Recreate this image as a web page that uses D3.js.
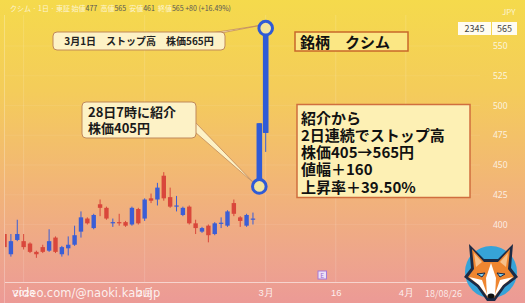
<!DOCTYPE html>
<html>
<head>
<meta charset="utf-8">
<script src="https://cdn.jsdelivr.net/npm/d3@7"></script>
<style>
  html, body { margin: 0; padding: 0; background: #f2b878; }
  svg { display: block; font-family: "Noto Sans CJK JP", "Noto Sans", sans-serif; }
</style>
</head>
<body>
<svg id="chart" width="525" height="303"></svg>
<script>
// Daily candles, クシム (2345), late Dec 2022 → 1 Mar 2023
const openP  = [392,375,387,386,384,377,381,378,389,375,380,383,394,405,397,417,414,401,402,402,400,413,405,422,421,441,423,415,408,415,401,394,399,392,401,399,418,406,399,404.5,432,477];
const highP  = [395,392,404,392,385,378,383,396,390,382,390,399,411,406,409,421,415,405,409,403,415,414,422,426,435,444,431,424,415,416,404,398,400,402,406,412,421,407,409,410,485,565];
const lowP   = [378,373,386,379,376,372,376,377,376,373,374,382,389,400,396,407,404,398,399,398,399,400,403,418,416,420,414,411,407,400,392,393,385,391,397,398,407,398,398,400,430,461];
const closeP = [381,386,392,381,377,375,377,386,377,381,383,391,406,401,408,414,405,402,401,399,414,401,421,420,431,422,415,416,414,401,397,397,391,401,401.5,411,409,403,408,405,485,565];

// trading-day index of each date label on the time axis
const tickIdx  = [3, 22, 41, 52, 63];
const tickText = ["2023", "2月", "3月", "16", "4月"];
const priceTicks = [400, 425, 450, 475, 500, 525, 550];

const W = 525, H = 303;
const svg = d3.select("#chart");

// background gradient
const defs = svg.append("defs");
const grad = defs.append("linearGradient").attr("id", "bg").attr("x1", 0).attr("y1", 0).attr("x2", 0).attr("y2", 1);
[["0%", "#f5da4c"], ["30%", "#f4cc5a"], ["60%", "#f2b676"], ["85%", "#eea58c"], ["100%", "#ec9a96"]]
  .forEach(([o, c]) => grad.append("stop").attr("offset", o).attr("stop-color", c));
svg.append("rect").attr("width", W).attr("height", H).attr("fill", "url(#bg)");

// scales
const x = d3.scaleLinear().domain([41, 63]).range([265.7, 265.7 + 22 * 6.37]);
const y = d3.scaleLinear().domain([400, 550]).range([224.5, 46]);

// grid
const grid = svg.append("g").attr("stroke", "#fff");
grid.selectAll("line.v").data(tickIdx).join("line")
  .attr("x1", d => x(d)).attr("x2", d => x(d)).attr("y1", 15).attr("y2", 282)
  .attr("stroke-opacity", 0.14);
grid.selectAll("line.h").data(priceTicks).join("line")
  .attr("x1", 5).attr("x2", 480).attr("y1", d => y(d)).attr("y2", d => y(d))
  .attr("stroke-opacity", 0.07);

// left edge of the pane
svg.append("line").attr("x1", 4.5).attr("x2", 4.5).attr("y1", 15).attr("y2", 303)
  .attr("stroke", "#fff").attr("stroke-opacity", 0.25);

// candles
const UP = "#3a5ed6", DOWN = "#d9473b";
const cw = 4.4;
const candles = svg.append("g").attr("clip-path", "url(#pane)");
defs.append("clipPath").attr("id", "pane").append("rect").attr("x", 5).attr("y", 15).attr("width", 475).attr("height", 267);
const idx = d3.range(openP.length);
candles.selectAll("line.wick").data(idx).join("line")
  .attr("x1", i => x(i)).attr("x2", i => x(i))
  .attr("y1", i => y(highP[i])).attr("y2", i => y(lowP[i]))
  .attr("stroke", i => closeP[i] >= openP[i] ? UP : DOWN).attr("stroke-width", 1);
candles.selectAll("rect.body").data(idx).join("rect")
  .attr("x", i => x(i) - cw / 2).attr("width", cw)
  .attr("y", i => y(Math.max(openP[i], closeP[i])))
  .attr("height", i => Math.max(1.2, Math.abs(y(openP[i]) - y(closeP[i]))))
  .attr("fill", i => closeP[i] >= openP[i] ? UP : DOWN);

// thick highlight over the two limit-up sessions
const hl = svg.append("g").attr("fill", "#2f5bd6");
[40, 41].forEach(i => {
  hl.append("rect").attr("x", x(i) - 2.8).attr("width", 5.6)
    .attr("y", y(closeP[i])).attr("height", y(openP[i]) - y(closeP[i]));
});

// callout tails
const cream = "#fdf2c6", tan = "#c0895a";
svg.append("polygon").attr("points", `211,33 ${x(41) - 4},${y(565) - 3} 221,33`)
  .attr("fill", cream).attr("stroke", tan).attr("stroke-width", 0.8);
svg.append("polygon").attr("points", `195,122 ${x(40) - 4},${y(432) - 2} 195,132`)
  .attr("fill", cream).attr("stroke", tan).attr("stroke-width", 0.8);

// marker circles at the intro point and the limit-up close
svg.selectAll("circle.mk").data([[40, 432], [41, 565]]).join("circle")
  .attr("cx", d => x(d[0])).attr("cy", d => y(d[1])).attr("r", 6.8)
  .attr("fill", "#f4e49a").attr("stroke", "#2f5bd6").attr("stroke-width", 3);

// callout boxes
svg.append("rect").attr("x", 53).attr("y", 32).attr("width", 172).attr("height", 18).attr("rx", 4)
  .attr("fill", cream).attr("stroke", tan).attr("stroke-width", 1);
svg.append("text").attr("x", 139).attr("y", 45).attr("text-anchor", "middle")
  .attr("font-size", 10).attr("font-weight", 700).attr("fill", "#222")
  .text("3月1日　ストップ高　株価565円");

svg.append("rect").attr("x", 82).attr("y", 102).attr("width", 114).attr("height", 36).attr("rx", 4)
  .attr("fill", cream).attr("stroke", tan).attr("stroke-width", 1);
svg.append("text").attr("font-size", 13).attr("font-weight", 700).attr("fill", "#1a1a1a")
  .selectAll("tspan").data(["28日7時に紹介", "株価405円"]).join("tspan")
  .attr("x", 88).attr("y", (d, i) => 117 + i * 16).text(d => d);

// ticker box
svg.append("rect").attr("x", 295).attr("y", 32).attr("width", 113).attr("height", 19)
  .attr("fill", "#fbe784").attr("stroke", "#c8682a").attr("stroke-width", 1.5);
svg.append("text").attr("x", 300).attr("y", 47.5).attr("font-size", 15).attr("font-weight", 700)
  .attr("fill", "#111").text("銘柄　クシム");

// summary box
svg.append("rect").attr("x", 297).attr("y", 104.5).attr("width", 173).attr("height", 93)
  .attr("fill", "#fdf0b4").attr("stroke", "#d06e3e").attr("stroke-width", 1.5);
svg.append("text").attr("font-size", 15).attr("font-weight", 700).attr("fill", "#111")
  .selectAll("tspan")
  .data(["紹介から", "2日連続でストップ高", "株価405→565円", "値幅＋160", "上昇率＋39.50%"]).join("tspan")
  .attr("x", 301).attr("y", (d, i) => 123.5 + i * 17.3).text(d => d);

// price axis
const yAxis = d3.axisRight(y).tickValues(priceTicks).tickSize(0).tickPadding(5);
const ya = svg.append("g").attr("transform", "translate(488,0)").call(yAxis);
ya.select(".domain").remove();
ya.selectAll("text").attr("fill", "#fff").attr("fill-opacity", 0.8).attr("font-size", 8.5)
  .attr("font-family", "Noto Sans, sans-serif");
svg.append("text").attr("x", 502).attr("y", 15).attr("font-size", 8).attr("fill", "#fff")
  .attr("fill-opacity", 0.75).text("JPY");

// last price tag
svg.append("rect").attr("x", 458).attr("y", 22).attr("width", 33).attr("height", 13).attr("fill", "#fff").attr("fill-opacity", 0.92);
svg.append("rect").attr("x", 492).attr("y", 22).attr("width", 25).attr("height", 13).attr("fill", "#fff").attr("fill-opacity", 0.92);
svg.append("text").attr("x", 474.5).attr("y", 32).attr("text-anchor", "middle").attr("font-size", 9)
  .attr("fill", "#444").text("2345");
svg.append("text").attr("x", 504.5).attr("y", 32).attr("text-anchor", "middle").attr("font-size", 9)
  .attr("fill", "#444").text("565");

// time axis
svg.append("line").attr("x1", 5).attr("x2", 480).attr("y1", 282.5).attr("y2", 282.5)
  .attr("stroke", "#fff").attr("stroke-opacity", 0.55);

// watermark (drawn under the date labels)
svg.append("text").attr("x", 12).attr("y", 297).attr("font-size", 11.5).attr("fill", "#fff")
  .attr("fill-opacity", 0.85).attr("font-family", "DejaVu Sans, sans-serif")
  .text("video.com/@naoki.kabujp");

const xAxis = d3.axisBottom(x).tickValues(tickIdx).tickFormat((d, i) => tickText[i]).tickSize(0).tickPadding(7);
const xa = svg.append("g").attr("transform", "translate(0,282)").call(xAxis);
xa.select(".domain").remove();
xa.selectAll("text").attr("fill", "#fff").attr("fill-opacity", 0.85).attr("font-size", 9.5);
svg.append("text").attr("x", 425).attr("y", 297).attr("font-size", 9).attr("fill", "#fff")
  .attr("fill-opacity", 0.8).text("18/08/26");

// earnings marker
svg.append("rect").attr("x", 318).attr("y", 271).attr("width", 8.5).attr("height", 8)
  .attr("fill", "#ece0f6").attr("stroke", "#a779d6").attr("stroke-width", 1);
svg.append("text").attr("x", 322.2).attr("y", 277.8).attr("text-anchor", "middle").attr("font-size", 6.5)
  .attr("fill", "#9a68d0").text("E");

// legend header (OHLC)
const hdr = svg.append("text").attr("x", 10).attr("y", 10.5).attr("font-size", 7);
[["クシム · 1日 · 東証 ", "#fff"], ["始値", "#fff"], ["477  ", "#555"], ["高値", "#fff"], ["565  ", "#555"],
 ["安値", "#fff"], ["461  ", "#555"], ["終値", "#fff"], ["565 +80 (+16.49%)", "#555"]]
  .forEach(([t, c]) => hdr.append("tspan").attr("fill", c).attr("fill-opacity", c === "#fff" ? 0.75 : 1)
    .attr("xml:space", "preserve").text(t));

// fox avatar
const fox = svg.append("g").attr("transform", "translate(491,272)");
fox.append("circle").attr("r", 26).attr("fill", "#36a3d8");
const navy = "#1c2a45";
fox.append("polygon").attr("points", "-22,-28 -7,-13 7,-13 22,-28 20,-4 27,5 14,15 4,29 -4,29 -14,15 -27,5 -20,-4").attr("fill", navy);
fox.append("polygon").attr("points", "-19,-23 -7,-10 7,-10 19,-23 17,-3 23,5 12,13 3,26 -3,26 -12,13 -23,5 -17,-3").attr("fill", "#ef8630");
fox.append("polygon").attr("points", "-17,-19 -9,-10 -15,-5").attr("fill", "#f7c08a");
fox.append("polygon").attr("points", "17,-19 9,-10 15,-5").attr("fill", "#f7c08a");
fox.append("polygon").attr("points", "-22,5 -9,8 -3,25 -12,13").attr("fill", "#fff");
fox.append("polygon").attr("points", "22,5 9,8 3,25 12,13").attr("fill", "#fff");
fox.append("polygon").attr("points", "0,-9 -5,6 -4,24 4,24 5,6").attr("fill", "#fff");
fox.append("polygon").attr("points", "-14,2 -6,1 -9,5").attr("fill", "#7fd0f0").attr("stroke", navy).attr("stroke-width", 1);
fox.append("polygon").attr("points", "14,2 6,1 9,5").attr("fill", "#7fd0f0").attr("stroke", navy).attr("stroke-width", 1);
fox.append("ellipse").attr("cx", 0).attr("cy", 24).attr("rx", 3.5).attr("ry", 2.5).attr("fill", "#111");
</script>
</body>
</html>
